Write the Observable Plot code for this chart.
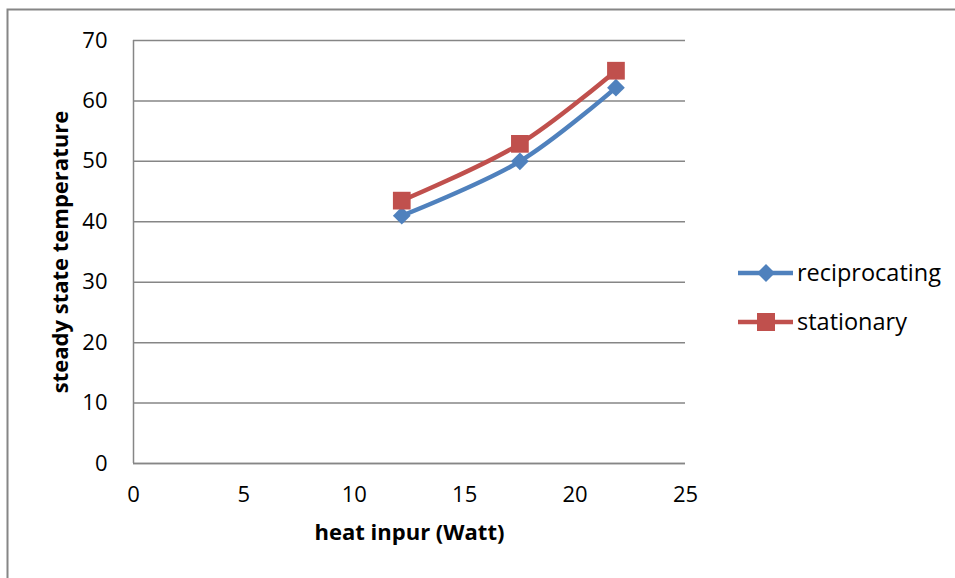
<!DOCTYPE html>
<html>
<head>
<meta charset="utf-8">
<script src="https://cdn.jsdelivr.net/npm/d3@7"></script>
<script src="https://cdn.jsdelivr.net/npm/@observablehq/plot@0.6"></script>
<style>
  html, body { margin: 0; padding: 0; background: #fff; }
  #chart svg { display: block; }
</style>
</head>
<body>
<div id="chart"></div>
<script>
// ---- data ----
const heatInput = [12.15, 17.5, 21.85];
const reciprocating = [41.0, 50.0, 62.2];
const stationary = [43.5, 52.9, 65.0];
const seriesNames = ["reciprocating", "stationary"];
const seriesColors = ["#4F81BD", "#C0504D"];
const xTicks = [0, 5, 10, 15, 20, 25];
const yTicks = [0, 10, 20, 30, 40, 50, 60, 70];
const xLabel = "heat inpur (Watt)";
const yLabel = "steady state temperature";

const rows = [];
heatInput.forEach((h, i) => {
  rows.push({series: seriesNames[0], x: h, y: reciprocating[i]});
  rows.push({series: seriesNames[1], x: h, y: stationary[i]});
});
const recRows = rows.filter(d => d.series === seriesNames[0]);
const staRows = rows.filter(d => d.series === seriesNames[1]);

const FONT = "'Open Sans', Lato, sans-serif";
const W = 955, H = 578;
const mL = 133, mR = 270, mT = 40, mB = 115;

const plot = Plot.plot({
  width: W,
  height: H,
  marginLeft: mL,
  marginRight: mR,
  marginTop: mT,
  marginBottom: mB,
  style: {fontFamily: FONT, background: "#fff", color: "#000"},
  x: {domain: [0, 25], ticks: xTicks},
  y: {domain: [0, 70], ticks: yTicks},
  color: {domain: seriesNames, range: seriesColors},
  marks: [
    Plot.gridY(yTicks, {stroke: "#868686", strokeOpacity: 1, strokeWidth: 1.5}),
    Plot.ruleX([0], {stroke: "#868686", strokeWidth: 1.5}),
    Plot.ruleY([0], {stroke: "#868686", strokeWidth: 1.5}),
    Plot.axisY(yTicks, {tickSize: 0, tickPadding: 26, fontSize: 22, label: null, fill: "#000"}),
    Plot.axisX(xTicks, {tickSize: 0, tickPadding: 23, fontSize: 22, label: null, fill: "#000"}),
    Plot.text([xLabel], {frameAnchor: "bottom", dy: 76, text: d => d, fontSize: 22, fontWeight: "bold", fill: "#000"}),
    Plot.text([yLabel], {frameAnchor: "left", dx: -73, rotate: -90, textAnchor: "middle", text: d => d, fontSize: 22, fontWeight: "bold", fill: "#000"}),
    Plot.line(recRows, {x: "x", y: "y", stroke: "series", strokeWidth: 4.5, curve: "catmull-rom"}),
    Plot.line(staRows, {x: "x", y: "y", stroke: "series", strokeWidth: 4.5, curve: "catmull-rom"}),
    Plot.dot(recRows, {x: "x", y: "y", fill: "series", symbol: "diamond2", r: 8}),
    Plot.dot(staRows, {x: "x", y: "y", fill: "series", symbol: "square", r: 10})
  ]
});

document.getElementById("chart").appendChild(plot);

// outer border (top and left edges visible)
const svg = d3.select(plot);
svg.insert("path", ":first-child")
  .attr("d", `M7.5,${H} V9.5 H${W}`)
  .attr("fill", "none").attr("stroke", "#868686").attr("stroke-width", 2);

// legend
const legendY = [273, 322];
const legend = svg.append("g").attr("font-family", FONT).attr("text-anchor", "start");
seriesNames.forEach((name, i) => {
  const g = legend.append("g").attr("transform", `translate(0,${legendY[i]})`);
  g.append("line").attr("x1", 738).attr("x2", 793).attr("y1", 0).attr("y2", 0)
    .attr("stroke", seriesColors[i]).attr("stroke-width", 4.5);
  if (i === 0) {
    const s = 9;
    g.append("path").attr("d", `M766,${-s} L${766 + s},0 L766,${s} L${766 - s},0Z`).attr("fill", seriesColors[i]);
  } else {
    g.append("rect").attr("x", 766 - 9).attr("y", -9).attr("width", 18).attr("height", 18).attr("fill", seriesColors[i]);
  }
  g.append("text").attr("x", 797).attr("y", 0).attr("dy", "0.35em")
    .attr("text-anchor", "start")
    .style("font-size", "23.5px").attr("fill", "#000").text(name);
});
</script>
</body>
</html>
